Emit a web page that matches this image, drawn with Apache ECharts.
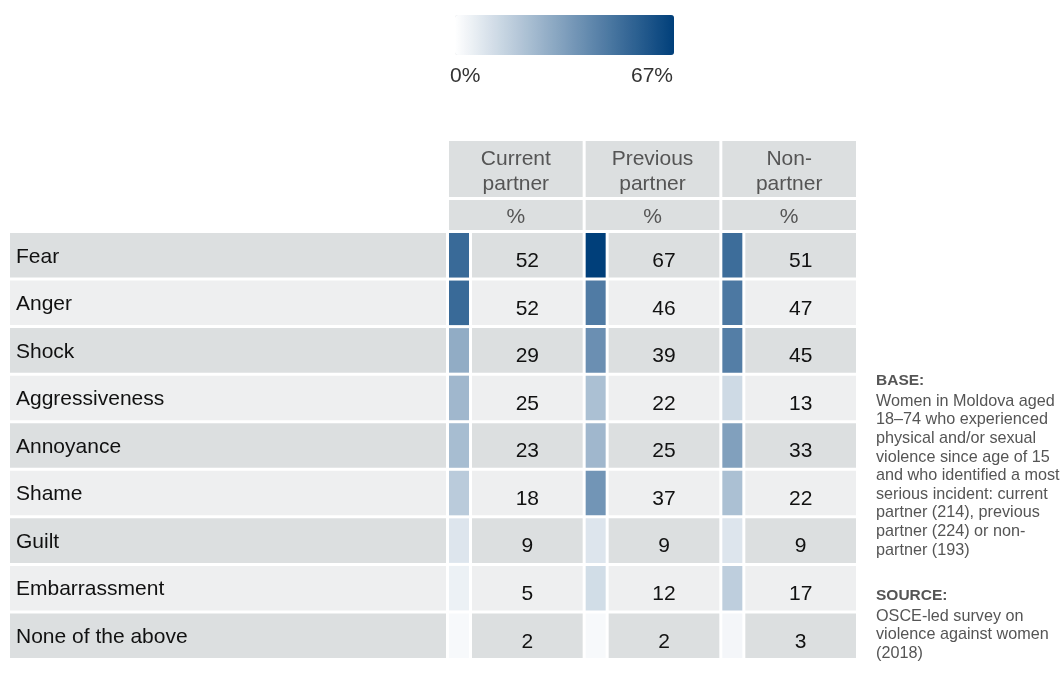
<!DOCTYPE html>
<html>
<head>
<meta charset="utf-8">
<title>Emotions after most serious incident</title>
<script src="https://cdn.jsdelivr.net/npm/echarts@6/dist/echarts.min.js"></script>
<style>
  html, body { margin: 0; padding: 0; background: #fff; }
  #chart { width: 1061px; height: 679px; }
</style>
</head>
<body>
<div id="chart"></div>
<script>
// data
const rowLabels = ['Fear', 'Anger', 'Shock', 'Aggressiveness', 'Annoyance', 'Shame', 'Guilt', 'Embarrassment', 'None of the above'];
const columnLabels = ['Current\npartner', 'Previous\npartner', 'Non-\npartner'];
const currentPartner = [52, 52, 29, 25, 23, 18, 9, 5, 2];
const previousPartner = [67, 46, 39, 22, 25, 37, 9, 12, 2];
const nonPartner = [51, 47, 45, 13, 33, 22, 9, 17, 3];
const scaleMin = 0;
const scaleMax = 67;

const FONT = '"Liberation Sans", Arial, sans-serif';
const GRID_LEFT = 449;
const GRID_RIGHT_EDGE = 859;
const GRID_TOP = 233;
const GRID_BOTTOM_EDGE = 661;
const GAP = 3;
const SWATCH_W = 20;
const ROW_DARK = '#dcdfe0';
const ROW_LIGHT = '#eeeff0';

// [column, row, value]
const cellData = [];
[currentPartner, previousPartner, nonPartner].forEach((vals, c) => {
  vals.forEach((v, r) => cellData.push([c, r, v]));
});

const chart = echarts.init(document.getElementById('chart'));

// swatch + value cell for one column/row
function renderCell(params, api) {
  const col = api.value(0);
  const row = api.value(1);
  const center = api.coord([col, row]);
  const bw = api.size([1, 0])[0];
  const bh = api.size([0, 1])[1];
  const x0 = center[0] - bw / 2;
  const y0 = center[1] - bh / 2;
  const h = bh - GAP;
  const cellX = x0 + SWATCH_W + GAP;
  const cellW = bw - SWATCH_W - 2 * GAP;
  return {
    type: 'group',
    children: [
      { type: 'rect', shape: { x: x0, y: y0, width: SWATCH_W, height: h }, style: { fill: api.visual('color') } },
      { type: 'rect', shape: { x: cellX, y: y0, width: cellW, height: h }, style: { fill: row % 2 === 0 ? ROW_DARK : ROW_LIGHT } },
      {
        type: 'text',
        style: {
          x: cellX + cellW / 2, y: y0 + h / 2 + 6,
          text: String(api.value(2)),
          fill: '#111', font: '21px ' + FONT,
          align: 'center', verticalAlign: 'middle'
        }
      }
    ]
  };
}

// row label cell left of the grid
function renderLabel(params, api) {
  const row = api.value(0);
  const center = api.coord([0, row]);
  const bh = api.size([0, 1])[1];
  const y0 = center[1] - bh / 2;
  const h = bh - GAP;
  const left = 10;
  return {
    type: 'group',
    children: [
      { type: 'rect', shape: { x: left, y: y0, width: params.coordSys.x - GAP - left, height: h }, style: { fill: row % 2 === 0 ? ROW_DARK : ROW_LIGHT } },
      {
        type: 'text',
        style: {
          x: left + 6, y: y0 + h / 2 + 1.5,
          text: rowLabels[row],
          fill: '#111', font: '21px ' + FONT,
          align: 'left', verticalAlign: 'middle'
        }
      }
    ]
  };
}

// header cells above the grid
const band = (GRID_RIGHT_EDGE - GRID_LEFT) / columnLabels.length;
const headerGraphics = [];
columnLabels.forEach((name, i) => {
  const x = GRID_LEFT + i * band;
  const w = band - GAP;
  headerGraphics.push(
    { type: 'rect', shape: { x: x, y: 141, width: w, height: 56 }, style: { fill: ROW_DARK } },
    { type: 'text', x: x + w / 2, y: 172, style: { text: name, font: '21px ' + FONT, lineHeight: 25, fill: '#555', align: 'center', verticalAlign: 'middle' } },
    { type: 'rect', shape: { x: x, y: 200, width: w, height: 30 }, style: { fill: ROW_DARK } },
    { type: 'text', x: x + w / 2, y: 217, style: { text: '%', font: '21px ' + FONT, fill: '#555', align: 'center', verticalAlign: 'middle' } }
  );
});

const footnote = [
  { type: 'text', left: 876, top: 373, style: { text: 'BASE:', font: 'bold 15.5px ' + FONT, fill: '#555' } },
  {
    type: 'text', left: 876, top: 392,
    style: {
      text: 'Women in Moldova aged\n18–74 who experienced\nphysical and/or sexual\nviolence since age of 15\nand who identified a most\nserious incident: current\npartner (214), previous\npartner (224) or non-\npartner (193)',
      font: '16.2px ' + FONT, lineHeight: 18.6, fill: '#555'
    }
  },
  { type: 'text', left: 876, top: 588, style: { text: 'SOURCE:', font: 'bold 15.5px ' + FONT, fill: '#555' } },
  {
    type: 'text', left: 876, top: 607,
    style: { text: 'OSCE-led survey on\nviolence against women\n(2018)', font: '16.2px ' + FONT, lineHeight: 18.6, fill: '#555' }
  }
];

const legendLabels = [
  { type: 'text', left: 450, top: 66, style: { text: scaleMin + '%', font: '21px ' + FONT, fill: '#333' } },
  { type: 'text', right: 1061 - 673, top: 66, style: { text: scaleMax + '%', font: '21px ' + FONT, fill: '#333', align: 'right' } }
];

const option = {
  backgroundColor: '#fff',
  animation: false,
  grid: {
    left: GRID_LEFT,
    right: 1061 - GRID_RIGHT_EDGE,
    top: GRID_TOP,
    bottom: 679 - GRID_BOTTOM_EDGE
  },
  xAxis: {
    type: 'category',
    data: columnLabels,
    show: false
  },
  yAxis: {
    type: 'category',
    data: rowLabels,
    inverse: true,
    show: false
  },
  visualMap: {
    type: 'continuous',
    min: scaleMin,
    max: scaleMax,
    dimension: 2,
    seriesIndex: 1,
    orient: 'horizontal',
    left: 455,
    top: 15,
    padding: 0,
    itemWidth: 40,
    itemHeight: 219,
    text: null,
    calculable: false,
    hoverLink: false,
    inRange: { color: ['#ffffff', '#003f7a'] }
  },
  graphic: headerGraphics.concat(footnote, legendLabels),
  series: [
    {
      type: 'custom',
      renderItem: renderLabel,
      data: rowLabels.map((_, i) => [i]),
      encode: { y: 0 },
      silent: true
    },
    {
      type: 'custom',
      renderItem: renderCell,
      data: cellData,
      encode: { x: 0, y: 1 },
      silent: true
    }
  ]
};

chart.setOption(option);
</script>
</body>
</html>
